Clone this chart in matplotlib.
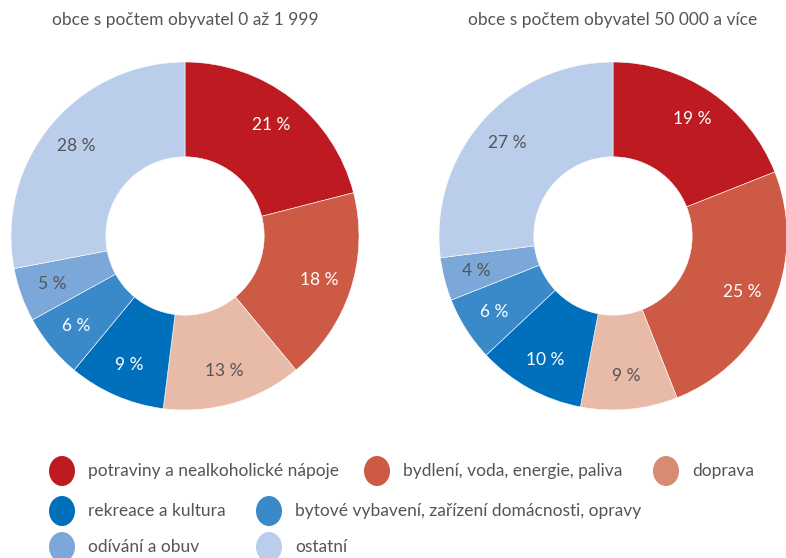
import numpy as np
import matplotlib.pyplot as plt
from matplotlib.patches import Ellipse

plt.rcParams['font.family'] = ['Lato', 'DejaVu Sans']

kategorie = ['potraviny a nealkoholické nápoje', 'bydlení, voda, energie, paliva', 'doprava',
             'rekreace a kultura', 'bytové vybavení, zařízení domácnosti, opravy',
             'odívání a obuv', 'ostatní']
male_obce = [21, 18, 13, 9, 6, 5, 28]
velke_obce = [19, 25, 9, 10, 6, 4, 27]
tituly = ['obce s počtem obyvatel 0 až 1 999', 'obce s počtem obyvatel 50 000 a více']

barvy = ['#BD1B21', '#CC5A44', '#E8BBA8', '#0070BC', '#3A89C9', '#7BA7D9', '#BACEEB']
barvy_legenda = ['#BD1B21', '#CC5A44', '#D98A72', '#0070BC', '#3A89C9', '#7BA7D9', '#BACEEB']
barvy_textu = ['white', 'white', '#555555', 'white', 'white', '#555555', '#555555']
sedy = '#555555'

W, H = 786, 558
fig = plt.figure(figsize=(W / 100, H / 100), dpi=100)

# pozadi v pixelech pro titulky a legendu
bg = fig.add_axes([0, 0, 1, 1])
bg.set_xlim(0, W)
bg.set_ylim(H, 0)
bg.axis('off')

r = 174
for cx, data, titul in [(185, male_obce, tituly[0]), (613, velke_obce, tituly[1])]:
    ax = fig.add_axes([(cx - r) / W, 1 - (236 + r) / H, 2 * r / W, 2 * r / H])
    wedges, _ = ax.pie(data, colors=barvy, startangle=90, counterclock=False, radius=1,
                       wedgeprops=dict(width=0.545, edgecolor='white', linewidth=0.4))
    for w, v, c in zip(wedges, data, barvy_textu):
        ang = np.deg2rad((w.theta1 + w.theta2) / 2)
        rr = 0.81
        ax.text(rr * np.cos(ang), rr * np.sin(ang), f'{v} %', ha='center', va='center',
                color=c, fontsize=12.5)
    ax.set_xlim(-1, 1)
    ax.set_ylim(-1, 1)
    ax.set_aspect('equal')
    bg.text(cx, 20, titul, ha='center', va='center', color=sedy, fontsize=12.5)

# legenda
pozice = [(62, 471), (377, 471), (666, 471), (62, 511), (269, 511), (62, 547), (269, 547)]
for (x, y), k, b in zip(pozice, kategorie, barvy_legenda):
    bg.add_patch(Ellipse((x, y), 26, 30, color=b, lw=0))
    bg.text(x + 26, y, k, ha='left', va='center', color=sedy, fontsize=12.5)

fig.savefig('out.png', dpi=100)
